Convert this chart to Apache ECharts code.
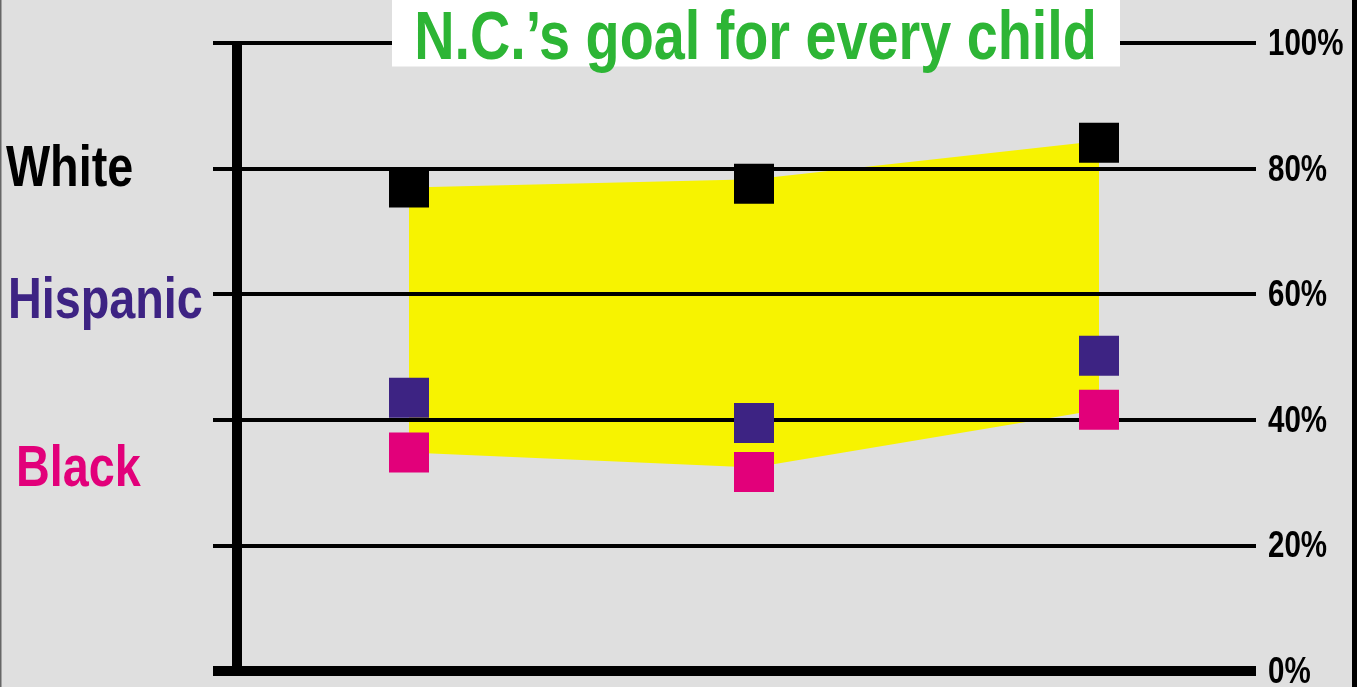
<!DOCTYPE html>
<html>
<head>
<meta charset="utf-8">
<script src="https://cdn.jsdelivr.net/npm/echarts@6/dist/echarts.min.js"></script>
<style>
  html, body { margin: 0; padding: 0; background: #dfdfdf; }
  #chart { width: 1357px; height: 687px; }
</style>
</head>
<body>
<div id="chart"></div>
<script>
// ---- data ----
const categories = ['Year 1', 'Year 2', 'Year 3'];
const whiteValues = [77.0, 77.6, 84.1];
const hispanicValues = [43.5, 39.5, 50.2];
const blackValues = [34.8, 31.7, 41.6];
// yellow gap band (upper and lower edges)
const bandTop = [77.0, 78.3, 84.4];
const bandBottom = [34.8, 32.4, 41.6];
const yTicks = [0, 20, 40, 60, 80, 100];
const yTickLabels = ['0%', '20%', '40%', '60%', '80%', '100%'];
const titleText = 'N.C.\u2019s goal for every child';
const groupLabels = ['White', 'Hispanic', 'Black'];

const FONT = "'Liberation Sans', Arial, sans-serif";
const NARROW = 0.82; // condensed look
const COLORS = { White: '#000000', Hispanic: '#3d2383', Black: '#e2007a' };

const chart = echarts.init(document.getElementById('chart'));
const bandSpan = bandTop.map((v, i) => v - bandBottom[i]);

const GRID_RIGHT_X = 1357 - 101;

const option = {
  backgroundColor: '#dfdfdf',
  animation: false,
  grid: [
    { left: 213, right: 101, top: 43, bottom: 16, outerBoundsMode: 'none', containLabel: false },
    { left: 236.5, right: 85.5, top: 43, bottom: 16, outerBoundsMode: 'none', containLabel: false }
  ],
  xAxis: [
    { gridIndex: 0, type: 'category', data: categories, z: 3,
      axisLine: { show: true, lineStyle: { color: '#000', width: 10, cap: 'butt' } },
      axisTick: { show: false }, axisLabel: { show: false }, splitLine: { show: false } },
    { gridIndex: 1, type: 'category', data: categories, boundaryGap: true,
      axisLine: { show: false }, axisTick: { show: false }, axisLabel: { show: false }, splitLine: { show: false } }
  ],
  yAxis: [
    { gridIndex: 0, type: 'value', min: 0, max: 100, interval: 20, position: 'right', z: 3,
      axisLine: { show: false }, axisTick: { show: false },
      splitLine: { show: true, lineStyle: { color: '#000', width: 4, cap: 'butt' } },
      axisLabel: { show: false } },
    { gridIndex: 1, type: 'value', min: 0, max: 100, interval: 20, position: 'left', z: 3,
      axisLine: { show: true, lineStyle: { color: '#000', width: 10, cap: 'butt' } },
      axisTick: { show: false }, axisLabel: { show: false }, splitLine: { show: false } }
  ],
  series: [
    { name: 'bandBase', type: 'line', xAxisIndex: 1, yAxisIndex: 1, stack: 'band', z: 1,
      data: bandBottom, symbol: 'none', lineStyle: { width: 0, opacity: 0 }, silent: true },
    { name: 'band', type: 'line', xAxisIndex: 1, yAxisIndex: 1, stack: 'band', z: 1,
      data: bandSpan, symbol: 'none', lineStyle: { width: 0, opacity: 0 },
      areaStyle: { color: '#f7f300', opacity: 1 }, silent: true },
    { name: 'White', type: 'scatter', xAxisIndex: 1, yAxisIndex: 1, z: 5, data: whiteValues,
      symbol: 'rect', symbolSize: 40, itemStyle: { color: COLORS.White, opacity: 1 } },
    { name: 'Hispanic', type: 'scatter', xAxisIndex: 1, yAxisIndex: 1, z: 5, data: hispanicValues,
      symbol: 'rect', symbolSize: 40, itemStyle: { color: COLORS.Hispanic, opacity: 1 } },
    { name: 'Black', type: 'scatter', xAxisIndex: 1, yAxisIndex: 1, z: 5, data: blackValues,
      symbol: 'rect', symbolSize: 40, itemStyle: { color: COLORS.Black, opacity: 1 } }
  ]
};
chart.setOption(option);

function narrowText(x, y, text, color, size, align) {
  return { type: 'text', x: x, y: y, scaleX: NARROW, scaleY: 1, z: 11,
    style: { text: text, fill: color, font: 'bold ' + size + 'px ' + FONT,
      textAlign: align || 'left', textVerticalAlign: 'middle' } };
}

const graphics = [
  { type: 'rect', left: 0, top: 0, z: 10, shape: { width: 1.5, height: 687 }, style: { fill: '#666' } },
  { type: 'rect', left: 1352, top: 0, z: 10, shape: { width: 5, height: 687 }, style: { fill: '#000' } },
  { type: 'rect', left: 392, top: 0, z: 10, shape: { width: 728, height: 66.5 }, style: { fill: '#ffffff' } },
  narrowText(755.5, 40, titleText, '#2db535', 68, 'center'),
  narrowText(6, 170.5, groupLabels[0], COLORS.White, 57),
  narrowText(8, 302.5, groupLabels[1], COLORS.Hispanic, 57),
  narrowText(16, 470, groupLabels[2], COLORS.Black, 57)
];
// right-hand tick labels, placed with the library's y scale
yTicks.forEach((v, i) => {
  const py = chart.convertToPixel({ yAxisIndex: 0 }, v);
  graphics.push(narrowText(GRID_RIGHT_X + 12, py + 2, yTickLabels[i], '#000', 36));
});
chart.setOption({ graphic: graphics });
</script>
</body>
</html>
